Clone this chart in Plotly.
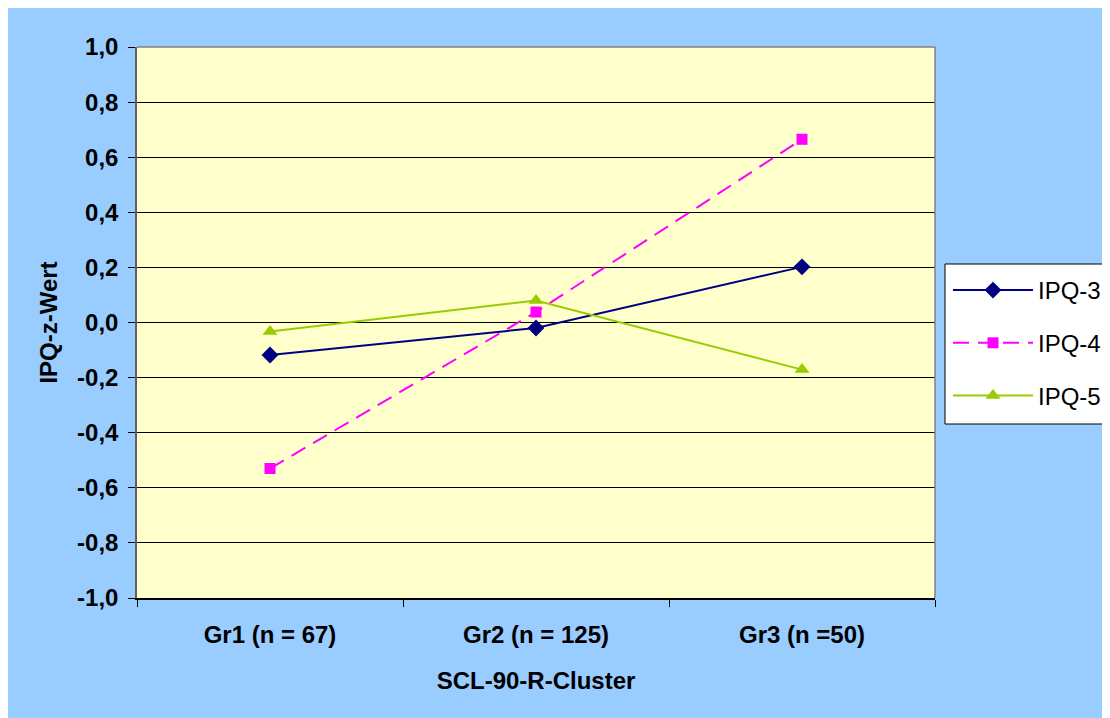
import plotly.graph_objects as go

categories = ["Gr1 (n = 67)", "Gr2 (n = 125)", "Gr3 (n =50)"]
ipq3 = [-0.118, -0.02, 0.202]
ipq4 = [-0.53, 0.038, 0.665]
ipq5 = [-0.033, 0.08, -0.171]
y_tickvals = [1.0, 0.8, 0.6, 0.4, 0.2, 0.0, -0.2, -0.4, -0.6, -0.8, -1.0]
y_ticktext = ["1,0", "0,8", "0,6", "0,4", "0,2", "0,0", "-0,2", "-0,4", "-0,6", "-0,8", "-1,0"]

OFF = 8  # page body margin
W, H = 1110, 718
L, T = 137 - OFF, 47 - OFF
pw, ph = 798, 551
R, B = W - L - pw, H - T - ph

FONT = "Liberation Sans, Arial, sans-serif"


def px_x(px):
    return (px - 137) / pw


def px_y(py):
    return (598 - py) / ph


fig = go.Figure()
fig.add_trace(go.Scatter(x=categories, y=ipq3, name="IPQ-3", mode="lines+markers",
                         line=dict(color="#000080", width=2),
                         marker=dict(symbol="diamond", size=13, color="#000080"),
                         legendgroup="a"))
fig.add_trace(go.Scatter(x=categories, y=ipq4, name="IPQ-4", mode="lines+markers",
                         line=dict(color="#FF00FF", width=2, dash="16px,9px"),
                         marker=dict(symbol="square", size=11, color="#FF00FF"),
                         legendgroup="b"))
fig.add_trace(go.Scatter(x=categories, y=ipq5, name="IPQ-5", mode="lines+markers",
                         line=dict(color="#99CC00", width=2),
                         marker=dict(symbol="triangle-up", size=13, color="#99CC00"),
                         legendgroup="c"))

# plot area border (top and right)
fig.add_shape(type="line", xref="paper", yref="paper", x0=0, x1=1, y0=1, y1=1,
              line=dict(color="#808080", width=1.5), layer="above")
fig.add_shape(type="line", xref="paper", yref="paper", x0=1, x1=1, y0=0, y1=1,
              line=dict(color="#808080", width=1.5), layer="above")
# legend box
fig.add_shape(type="rect", xref="paper", yref="paper",
              x0=px_x(945), x1=px_x(1130), y0=px_y(424), y1=px_y(264),
              fillcolor="white", line=dict(color="black", width=1), layer="above")

fig.update_layout(
    width=W, height=H,
    margin=dict(l=L, r=R, t=T, b=B, autoexpand=False),
    paper_bgcolor="#99CCFF",
    plot_bgcolor="#FFFFCC",
    font=dict(family=FONT, size=24, color="black"),
    showlegend=True,
    legend=dict(
        x=px_x(948), y=px_y(268), xanchor="left", yanchor="top",
        xref="paper", yref="paper",
        bgcolor="rgba(0,0,0,0)", borderwidth=0,
        font=dict(family=FONT, size=24, color="black"),
        traceorder="grouped", tracegroupgap=18.5, itemwidth=80,
    ),
    xaxis=dict(
        type="category", range=[-0.5, 2.5],
        showline=True, linecolor="black", linewidth=1.5,
        ticks="outside", tickson="boundaries", ticklen=7, tickcolor="black",
        showgrid=False, zeroline=False,
        ticklabelstandoff=14,
        tickfont=dict(family=FONT, size=24, color="black", weight="bold"),
        title=dict(text="<b>SCL-90-R-Cluster</b>", standoff=26,
                   font=dict(family=FONT, size=24, color="black")),
    ),
    yaxis=dict(
        range=[-1, 1], tickvals=y_tickvals, ticktext=y_ticktext,
        showline=True, linecolor="#606060", linewidth=1.5,
        ticks="outside", ticklen=7, tickcolor="black",
        showgrid=True, gridcolor="black", gridwidth=1,
        zeroline=False,
        ticklabelstandoff=5,
        tickfont=dict(family=FONT, size=24, color="black", weight="bold"),
        title=dict(text="<b>IPQ-z-Wert</b>", standoff=13,
                   font=dict(family=FONT, size=24, color="black")),
    ),
)

fig.write_html("out.html")
